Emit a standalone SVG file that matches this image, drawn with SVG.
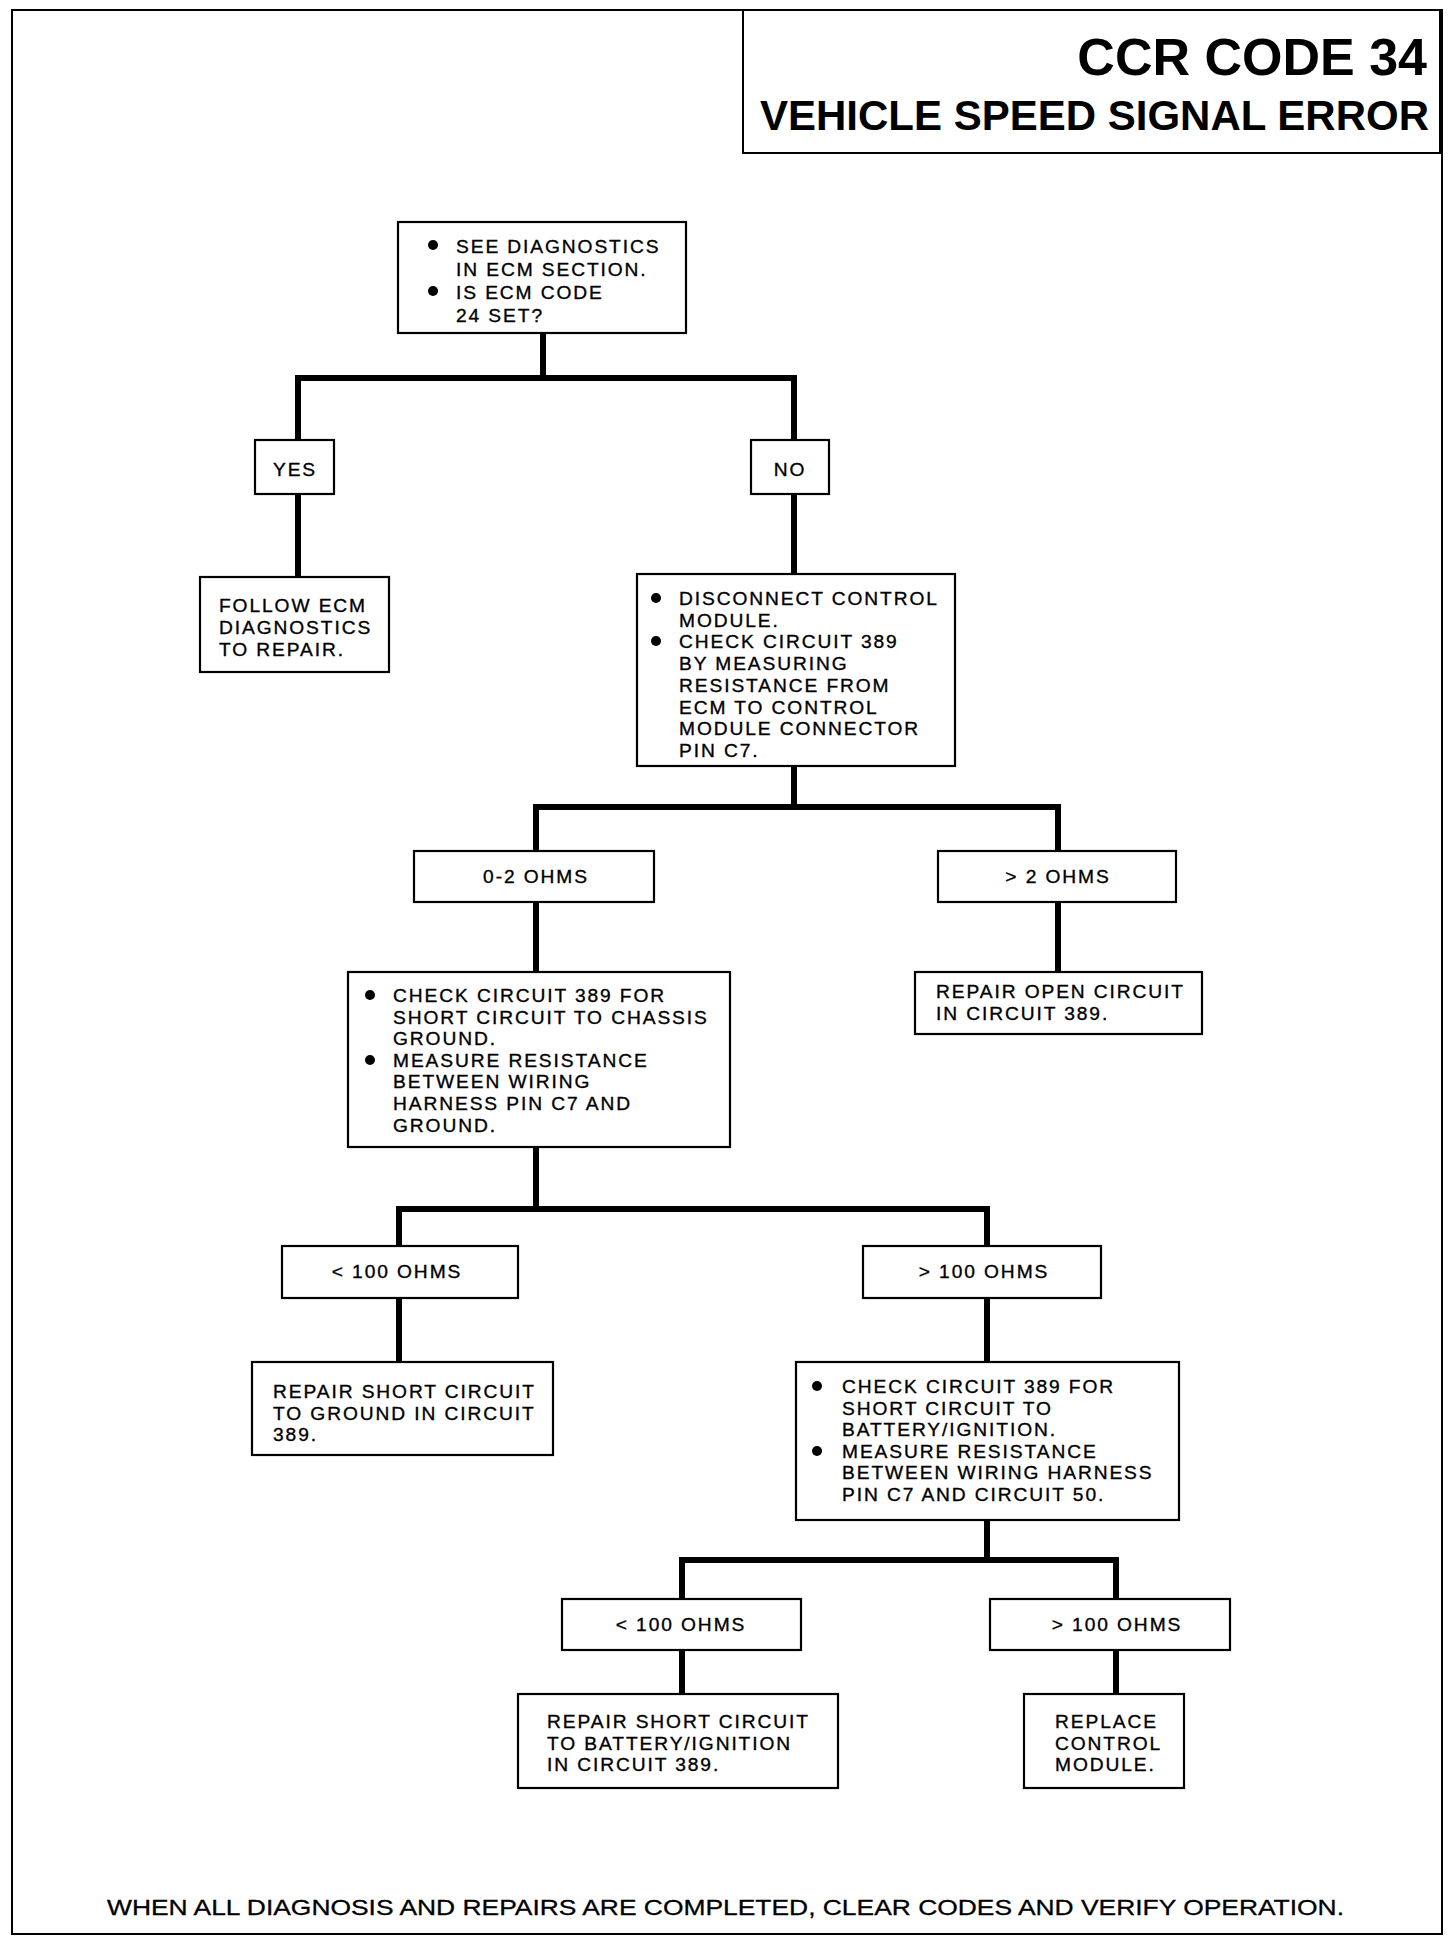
<svg xmlns="http://www.w3.org/2000/svg" width="1456" height="1944" viewBox="0 0 1456 1944">
<style>
.box{fill:#fff;stroke:#000;stroke-width:2.2}
.t{font-family:"Liberation Sans",Arial,sans-serif;font-size:19.2px;letter-spacing:1.9px;fill:#000;stroke:#000;stroke-width:0.35}
.c{text-anchor:middle}
.b{fill:#000}
.ln{fill:none;stroke:#000;stroke-width:6;stroke-linejoin:miter;stroke-linecap:square}
.h{font-family:"Liberation Sans",Arial,sans-serif;font-weight:bold;fill:#000;text-anchor:end}
.f{font-family:"Liberation Sans",Arial,sans-serif;font-size:22px;fill:#000;stroke:#000;stroke-width:0.3}
</style>
<rect x="0" y="0" width="1456" height="1944" fill="#fff"/>
<rect x="12" y="10" width="1430" height="1924" fill="none" stroke="#000" stroke-width="2"/>
<g id="title">
<rect x="743" y="10" width="697" height="143" fill="none" stroke="#000" stroke-width="2"/>
<text class="h" x="1427" y="75" font-size="52">CCR CODE 34</text>
<text class="h" x="1429" y="130" font-size="42">VEHICLE SPEED SIGNAL ERROR</text>
</g>
<g id="connectors">
<polyline class="ln" points="543,334 543,378"/>
<polyline class="ln" points="298,440 298,378 794,378 794,440"/>
<polyline class="ln" points="298,494 298,577"/>
<polyline class="ln" points="794,494 794,574"/>
<polyline class="ln" points="794,766 794,807"/>
<polyline class="ln" points="536,851 536,807 1058,807 1058,851"/>
<polyline class="ln" points="536,902 536,972"/>
<polyline class="ln" points="1058,902 1058,972"/>
<polyline class="ln" points="536,1147 536,1209"/>
<polyline class="ln" points="399,1246 399,1209 987,1209 987,1246"/>
<polyline class="ln" points="399,1298 399,1362"/>
<polyline class="ln" points="987,1298 987,1362"/>
<polyline class="ln" points="987,1520 987,1560"/>
<polyline class="ln" points="682,1599 682,1560 1116,1560 1116,1599"/>
<polyline class="ln" points="682,1650 682,1694"/>
<polyline class="ln" points="1116,1650 1116,1694"/>
</g>
<g id="n1">
<rect class="box" x="398" y="222" width="288" height="111"/>
<circle class="b" cx="433" cy="245" r="5"/>
<circle class="b" cx="433" cy="291" r="5"/>
<text class="t" x="456" y="253">SEE DIAGNOSTICS</text>
<text class="t" x="456" y="276">IN ECM SECTION.</text>
<text class="t" x="456" y="299">IS ECM CODE</text>
<text class="t" x="456" y="322">24 SET?</text>
</g>
<g id="yes">
<rect class="box" x="255" y="440" width="79" height="54"/>
<text class="t c" x="295" y="476">YES</text>
</g>
<g id="no">
<rect class="box" x="751" y="440" width="78" height="54"/>
<text class="t c" x="790" y="476">NO</text>
</g>
<g id="follow">
<rect class="box" x="200" y="577" width="189" height="95"/>
<text class="t" x="219" y="612">FOLLOW ECM</text>
<text class="t" x="219" y="634">DIAGNOSTICS</text>
<text class="t" x="219" y="656">TO REPAIR.</text>
</g>
<g id="n2">
<rect class="box" x="637" y="574" width="318" height="192"/>
<circle class="b" cx="656" cy="598" r="5"/>
<circle class="b" cx="656" cy="641" r="5"/>
<text class="t" x="679" y="605">DISCONNECT CONTROL</text>
<text class="t" x="679" y="626.7">MODULE.</text>
<text class="t" x="679" y="648.4">CHECK CIRCUIT 389</text>
<text class="t" x="679" y="670.1">BY MEASURING</text>
<text class="t" x="679" y="691.8">RESISTANCE FROM</text>
<text class="t" x="679" y="713.5">ECM TO CONTROL</text>
<text class="t" x="679" y="735.2">MODULE CONNECTOR</text>
<text class="t" x="679" y="756.9">PIN C7.</text>
</g>
<g id="ohm02">
<rect class="box" x="414" y="851" width="240" height="51"/>
<text class="t c" x="536" y="883">0-2 OHMS</text>
</g>
<g id="ohm2">
<rect class="box" x="938" y="851" width="238" height="51"/>
<text class="t c" x="1058" y="883">&gt; 2 OHMS</text>
</g>
<g id="n3">
<rect class="box" x="348" y="972" width="382" height="175"/>
<circle class="b" cx="370" cy="995" r="5"/>
<circle class="b" cx="370" cy="1060" r="5"/>
<text class="t" x="393" y="1002">CHECK CIRCUIT 389 FOR</text>
<text class="t" x="393" y="1023.6">SHORT CIRCUIT TO CHASSIS</text>
<text class="t" x="393" y="1045.2">GROUND.</text>
<text class="t" x="393" y="1066.8">MEASURE RESISTANCE</text>
<text class="t" x="393" y="1088.4">BETWEEN WIRING</text>
<text class="t" x="393" y="1110">HARNESS PIN C7 AND</text>
<text class="t" x="393" y="1131.6">GROUND.</text>
</g>
<g id="open">
<rect class="box" x="915" y="972" width="287" height="62"/>
<text class="t" x="936" y="998">REPAIR OPEN CIRCUIT</text>
<text class="t" x="936" y="1019.6">IN CIRCUIT 389.</text>
</g>
<g id="lt100a">
<rect class="box" x="282" y="1246" width="236" height="52"/>
<text class="t c" x="397" y="1278">&lt; 100 OHMS</text>
</g>
<g id="gt100a">
<rect class="box" x="863" y="1246" width="238" height="52"/>
<text class="t c" x="984" y="1278">&gt; 100 OHMS</text>
</g>
<g id="gnd">
<rect class="box" x="252" y="1362" width="301" height="93"/>
<text class="t" x="273" y="1398">REPAIR SHORT CIRCUIT</text>
<text class="t" x="273" y="1419.6">TO GROUND IN CIRCUIT</text>
<text class="t" x="273" y="1441.2">389.</text>
</g>
<g id="n4">
<rect class="box" x="796" y="1362" width="383" height="158"/>
<circle class="b" cx="817" cy="1386" r="5"/>
<circle class="b" cx="817" cy="1451" r="5"/>
<text class="t" x="842" y="1393">CHECK CIRCUIT 389 FOR</text>
<text class="t" x="842" y="1414.6">SHORT CIRCUIT TO</text>
<text class="t" x="842" y="1436.2">BATTERY/IGNITION.</text>
<text class="t" x="842" y="1457.8">MEASURE RESISTANCE</text>
<text class="t" x="842" y="1479.4">BETWEEN WIRING HARNESS</text>
<text class="t" x="842" y="1501">PIN C7 AND CIRCUIT 50.</text>
</g>
<g id="lt100b">
<rect class="box" x="562" y="1599" width="239" height="51"/>
<text class="t c" x="681" y="1631">&lt; 100 OHMS</text>
</g>
<g id="gt100b">
<rect class="box" x="990" y="1599" width="240" height="51"/>
<text class="t c" x="1117" y="1631">&gt; 100 OHMS</text>
</g>
<g id="batt">
<rect class="box" x="518" y="1694" width="320" height="94"/>
<text class="t" x="547" y="1728">REPAIR SHORT CIRCUIT</text>
<text class="t" x="547" y="1749.6">TO BATTERY/IGNITION</text>
<text class="t" x="547" y="1771.2">IN CIRCUIT 389.</text>
</g>
<g id="replace">
<rect class="box" x="1024" y="1694" width="160" height="94"/>
<text class="t" x="1055" y="1728">REPLACE</text>
<text class="t" x="1055" y="1749.6">CONTROL</text>
<text class="t" x="1055" y="1771.2">MODULE.</text>
</g>
<g id="footer">
<text class="f" x="107" y="1915" textLength="1237" lengthAdjust="spacingAndGlyphs">WHEN ALL DIAGNOSIS AND REPAIRS ARE COMPLETED, CLEAR CODES AND VERIFY OPERATION.</text>
</g>
</svg>
